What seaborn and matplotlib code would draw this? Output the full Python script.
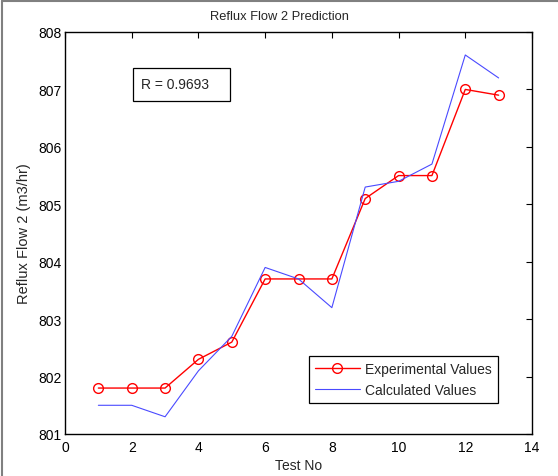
import matplotlib
matplotlib.use("Agg")
import matplotlib.pyplot as plt
from matplotlib.lines import Line2D
from matplotlib.patches import Rectangle
import seaborn as sns
import pandas as pd

test_no = [1, 2, 3, 4, 5, 6, 7, 8, 9, 10, 11, 12, 13]
experimental = [801.8, 801.8, 801.8, 802.3, 802.6, 803.7, 803.7, 803.7, 805.1, 805.5, 805.5, 807.0, 806.9]
calculated = [801.5, 801.5, 801.3, 802.1, 802.7, 803.9, 803.7, 803.2, 805.3, 805.4, 805.7, 807.6, 807.2]
x_ticks = [0, 2, 4, 6, 8, 10, 12, 14]
y_ticks = [801, 802, 803, 804, 805, 806, 807, 808]

sns.set_style("white")
plt.rcParams['font.family'] = ['Liberation Sans', 'DejaVu Sans']

df = pd.DataFrame({"Test No": test_no, "Experimental Values": experimental,
                   "Calculated Values": calculated})

W, H = 558, 477
fig = plt.figure(figsize=(W/100, H/100), dpi=100)
# partial gray frame (left and top)
fig.add_artist(Line2D([1.5/W, 1.5/W], [0, 1 - 1.5/H], transform=fig.transFigure,
                      color="#808080", linewidth=1.5))
fig.add_artist(Line2D([1.5/W, 1], [1 - 1.5/H, 1 - 1.5/H], transform=fig.transFigure,
                      color="#808080", linewidth=1.5))

ax = fig.add_axes([65/W, 1-435/H, (532-65)/W, (435-33)/H])

sns.lineplot(data=df, x="Test No", y="Experimental Values", ax=ax, color="red",
             marker="o", markersize=7, markerfacecolor="none", markeredgecolor="red",
             markeredgewidth=1.0, linewidth=1.0, label="Experimental Values")
sns.lineplot(data=df, x="Test No", y="Calculated Values", ax=ax, color="#4a4aff",
             linewidth=0.8, label="Calculated Values")

ax.set_xlim(0, 14)
ax.set_ylim(801, 808)
ax.set_xticks(x_ticks)
ax.set_yticks(y_ticks)
ax.tick_params(direction="in", top=True, right=True, length=4, width=0.8,
               labelsize=10, colors="black")
ax.tick_params(axis="x", pad=4.5)
ax.tick_params(axis="y", pad=2.5)
for s in ax.spines.values():
    s.set_color("black")
    s.set_linewidth(1.0)
ax.set_xlabel("Test No", fontsize=10, labelpad=3)
ax.set_ylabel("Reflux Flow 2 (m3/hr)", fontsize=10.5, labelpad=5)
fig.text(0.5, 1 - 17/H, "Reflux Flow 2 Prediction", fontsize=9.3, ha="center", va="center")

# R annotation box
ax.add_patch(Rectangle((0.1456, 0.8288), 0.3533 - 0.1456, 0.9107 - 0.8288,
                       transform=ax.transAxes, facecolor="white", edgecolor="black",
                       linewidth=0.9, zorder=5))
ax.text(0.163, 0.8697, "R = 0.9693", fontsize=10, va="center", ha="left",
        transform=ax.transAxes, zorder=6)

leg = ax.legend(loc="upper left", bbox_to_anchor=((309-65)/467, (435-357)/402), fontsize=10,
                frameon=True, fancybox=False, framealpha=1, edgecolor="black",
                handlelength=3.2, borderpad=0.45, labelspacing=0.5, handletextpad=0.35,
                borderaxespad=0)
leg.get_frame().set_linewidth(0.9)

fig.savefig("out.png", dpi=100)
